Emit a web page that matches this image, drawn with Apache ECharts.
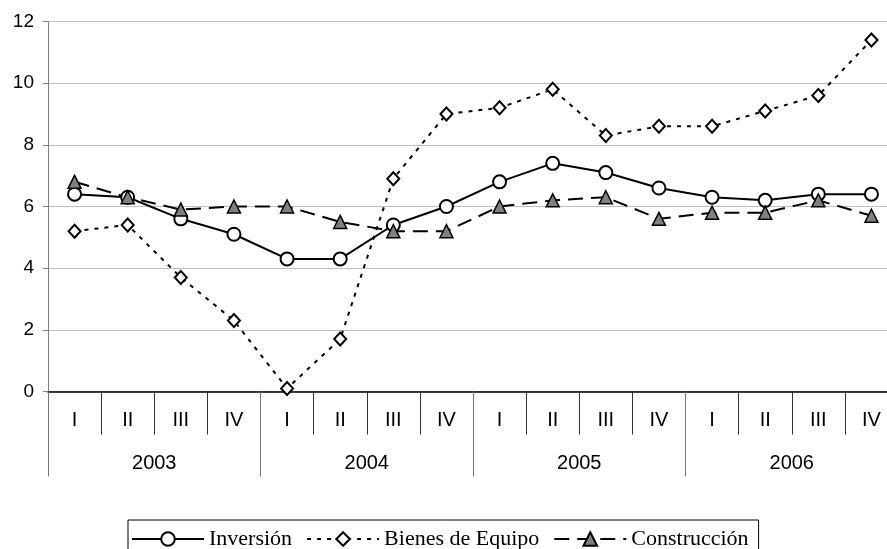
<!DOCTYPE html>
<html>
<head>
<meta charset="utf-8">
<script src="https://cdn.jsdelivr.net/npm/echarts@6/dist/echarts.min.js"></script>
<style>
  html, body { margin: 0; padding: 0; background: #fff; }
  #chart { width: 887px; height: 549px; }
</style>
</head>
<body>
<div id="chart"></div>
<script>
// datos
const quarters = ['I', 'II', 'III', 'IV', 'I', 'II', 'III', 'IV', 'I', 'II', 'III', 'IV', 'I', 'II', 'III', 'IV'];
const years = ['2003', '2004', '2005', '2006'];
const inversion = [6.4, 6.3, 5.6, 5.1, 4.3, 4.3, 5.4, 6.0, 6.8, 7.4, 7.1, 6.6, 6.3, 6.2, 6.4, 6.4];
const bienesEquipo = [5.2, 5.4, 3.7, 2.3, 0.1, 1.7, 6.9, 9.0, 9.2, 9.8, 8.3, 8.6, 8.6, 9.1, 9.6, 11.4];
const construccion = [6.8, 6.3, 5.9, 6.0, 6.0, 5.5, 5.2, 5.2, 6.0, 6.2, 6.3, 5.6, 5.8, 5.8, 6.2, 5.7];

const chart = echarts.init(document.getElementById('chart'));

const option = {
  animation: false,
  grid: {
    left: 48,
    right: -11,
    top: 21.5,
    bottom: 157.5,
    outerBoundsMode: 'none'
  },
  legend: {
    left: 128,
    top: 520,
    padding: [8, 10, 8, 3],
    itemWidth: 72,
    itemHeight: 17,
    itemGap: 14,
    borderColor: '#000',
    borderWidth: 1,
    textStyle: {
      fontFamily: '"Liberation Serif", "Times New Roman", serif',
      fontSize: 22,
      color: '#000'
    },
    data: ['Inversión', 'Bienes de Equipo', 'Construcción']
  },
  xAxis: [
    {
      type: 'category',
      position: 'bottom',
      data: quarters,
      boundaryGap: true,
      axisLine: {lineStyle: {color: '#000', width: 1.5}},
      axisTick: {show: true, interval: 0, length: 43, lineStyle: {color: '#333'}},
      axisLabel: {
        interval: 0,
        margin: 19,
        color: '#000',
        fontFamily: '"Liberation Sans", Arial, sans-serif',
        fontSize: 20
      }
    },
    {
      type: 'category',
      position: 'bottom',
      data: years,
      boundaryGap: true,
      axisLine: {show: false},
      axisTick: {show: true, interval: 0, length: 85, lineStyle: {color: '#777'}},
      axisLabel: {
        interval: 0,
        margin: 62,
        color: '#000',
        fontFamily: '"Liberation Sans", Arial, sans-serif',
        fontSize: 20
      }
    }
  ],
  yAxis: {
    type: 'value',
    min: 0,
    max: 12,
    interval: 2,
    axisLine: {show: true, lineStyle: {color: '#808080'}},
    axisTick: {show: true, length: 5, lineStyle: {color: '#808080'}},
    splitLine: {lineStyle: {color: '#c0c0c0', width: 1}},
    axisLabel: {
      margin: 14,
      color: '#000',
      fontFamily: '"Liberation Sans", Arial, sans-serif',
      fontSize: 19
    }
  },
  series: [
    {
      name: 'Inversión',
      type: 'line',
      data: inversion,
      symbol: 'circle',
      symbolSize: 13,
      lineStyle: {color: '#000', width: 2, type: 'solid'},
      itemStyle: {color: '#fff', borderColor: '#000', borderWidth: 2}
    },
    {
      name: 'Bienes de Equipo',
      type: 'line',
      data: bienesEquipo,
      symbol: 'diamond',
      symbolSize: [12, 13],
      lineStyle: {color: '#000', width: 2, type: [4, 6]},
      itemStyle: {color: '#fff', borderColor: '#000', borderWidth: 2}
    },
    {
      name: 'Construcción',
      type: 'line',
      data: construccion,
      symbol: 'triangle',
      symbolSize: 13,
      lineStyle: {color: '#000', width: 2, type: [15, 8]},
      itemStyle: {color: '#808080', borderColor: '#000', borderWidth: 1.5}
    }
  ]
};

chart.setOption(option);
</script>
</body>
</html>
